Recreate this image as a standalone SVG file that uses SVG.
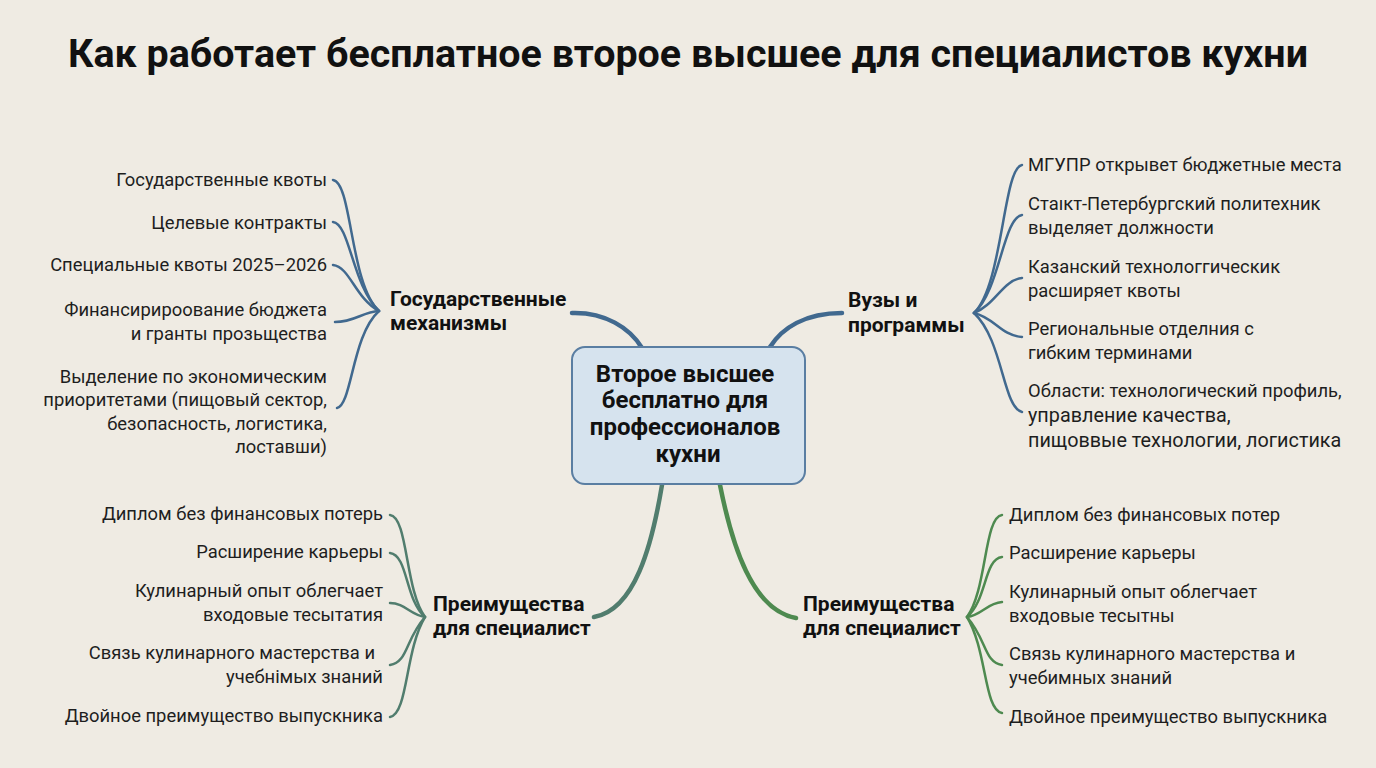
<svg xmlns="http://www.w3.org/2000/svg" width="1376" height="768" viewBox="0 0 1376 768">
<style>
.bg{fill:#EFEBE3}
.title{font-family:Roboto,"Liberation Sans",sans-serif;font-weight:700;font-size:39px;fill:#111}
.leaf{font-family:Roboto,"Liberation Sans",sans-serif;font-size:18.4px;fill:#1e1e1e}
.big{font-size:19.8px}
.branch{font-family:Roboto,"Liberation Sans",sans-serif;font-weight:700;font-size:21px;fill:#111}
.center{font-family:Roboto,"Liberation Sans",sans-serif;font-weight:700;font-size:24px;fill:#111}
.end{text-anchor:end}
.c{fill:none;stroke-linecap:round}
.trunk{stroke-width:4.5}
.twig{stroke-width:2.5}
.blue{stroke:#41698F}
.teal{stroke:#517D6E}
.green{stroke:#4E8A50}
.box{fill:#D6E3EE;stroke:#5A7EA2;stroke-width:2}
</style>
<rect class="bg" x="0" y="0" width="1376" height="768"/>
<text class="title" x="688" y="67" text-anchor="middle" textLength="1240" lengthAdjust="spacingAndGlyphs">Как работает бесплатное второе высшее для специалистов кухни</text>

<g id="connectors">
  <path class="c trunk blue" d="M 572 313 C 605 312, 630 328, 642 348"/>
  <path class="c trunk blue" d="M 842 313 C 805 313, 782 328, 770 347"/>
  <path class="c trunk teal" d="M 662 485 C 652 545, 635 610, 594 617"/>
  <path class="c trunk green" d="M 720 485 C 732 545, 752 610, 796 618"/>

  <path class="c twig blue" d="M 333 180 C 352 182, 350 285, 379 311"/>
  <path class="c twig blue" d="M 333 222 C 350 224, 352 285, 379 311"/>
  <path class="c twig blue" d="M 333 265 C 350 267, 355 298, 379 311"/>
  <path class="c twig blue" d="M 335 322 C 355 322, 362 312, 379 311"/>
  <path class="c twig blue" d="M 337 408 C 352 405, 352 335, 379 311"/>

  <path class="c twig blue" d="M 1022 165 C 1003 168, 1003 285, 974 313"/>
  <path class="c twig blue" d="M 1022 215 C 1003 218, 1000 290, 974 313"/>
  <path class="c twig blue" d="M 1022 278 C 1003 280, 995 305, 974 313"/>
  <path class="c twig blue" d="M 1022 337 C 1000 335, 995 318, 974 313"/>
  <path class="c twig blue" d="M 1022 412 C 1003 408, 1003 340, 974 313"/>

  <path class="c twig teal" d="M 390 515 C 408 517, 405 590, 425 617"/>
  <path class="c twig teal" d="M 390 553 C 408 555, 405 600, 425 617"/>
  <path class="c twig teal" d="M 390 603 C 405 603, 410 615, 425 617"/>
  <path class="c twig teal" d="M 390 665 C 408 662, 405 640, 425 617"/>
  <path class="c twig teal" d="M 390 717 C 408 714, 405 650, 425 617"/>

  <path class="c twig green" d="M 1002 515 C 984 517, 987 590, 967 617"/>
  <path class="c twig green" d="M 1002 557 C 984 559, 987 600, 967 617"/>
  <path class="c twig green" d="M 1002 602 C 987 603, 982 615, 967 617"/>
  <path class="c twig green" d="M 1002 665 C 984 662, 987 640, 967 617"/>
  <path class="c twig green" d="M 1002 713 C 984 710, 987 650, 967 617"/>
</g>

<g id="center">
  <rect class="box" x="572" y="347" width="233" height="137" rx="13"/>
  <text class="center" text-anchor="middle">
    <tspan x="688" y="382">Второе высшее</tspan>
    <tspan x="688" y="408">бесплатно для</tspan>
    <tspan x="688" y="435">профессионалов</tspan>
    <tspan x="688" y="462">кухни</tspan>
  </text>
</g>

<g id="branch-gov">
  <text class="branch"><tspan x="390" y="306">Государственные</tspan><tspan x="390" y="330">механизмы</tspan></text>
</g>
<g id="branch-vuz">
  <text class="branch"><tspan x="848" y="307">Вузы и</tspan><tspan x="848" y="332">программы</tspan></text>
</g>
<g id="branch-adv-left">
  <text class="branch"><tspan x="433" y="611">Преимущества</tspan><tspan x="433" y="635">для специалист</tspan></text>
</g>
<g id="branch-adv-right">
  <text class="branch"><tspan x="803" y="611">Преимущества</tspan><tspan x="803" y="635">для специалист</tspan></text>
</g>

<g id="leaves-gov">
  <text class="leaf end" x="327" y="186">Государственные квоты</text>
  <text class="leaf end" x="327" y="229">Целевые контракты</text>
  <text class="leaf end" x="327" y="271">Специальные квоты 2025–2026</text>
  <text class="leaf end"><tspan x="327" y="316">Финансирироование бюджета</tspan><tspan x="327" y="340">и гранты прозьщества</tspan></text>
  <text class="leaf end"><tspan x="327" y="383">Выделение по экономическим</tspan><tspan x="327" y="406">приоритетами (пищовый сектор,</tspan><tspan x="327" y="430">безопасность, логистика,</tspan><tspan x="327" y="453">лоставши)</tspan></text>
</g>

<g id="leaves-vuz">
  <text class="leaf" x="1028" y="171">МГУПР открывет бюджетные места</text>
  <text class="leaf"><tspan x="1028" y="210">Стаıкт-Петербургский политехник</tspan><tspan x="1028" y="234">выделяет должности</tspan></text>
  <text class="leaf"><tspan x="1028" y="273">Казанский технологгическик</tspan><tspan x="1028" y="297">расширяет квоты</tspan></text>
  <text class="leaf"><tspan x="1028" y="335">Региональные отделния с</tspan><tspan x="1028" y="359">гибким терминами</tspan></text>
  <text class="leaf"><tspan x="1028" y="397">Области: технологический профиль,</tspan><tspan class="big" x="1028" y="422">управление качества,</tspan><tspan class="big" x="1028" y="447">пищоввые технологии, логистика</tspan></text>
</g>

<g id="leaves-adv-left">
  <text class="leaf end" x="383" y="520">Диплом без финансовых потерь</text>
  <text class="leaf end" x="383" y="558">Расширение карьеры</text>
  <text class="leaf end"><tspan x="383" y="597">Кулинарный опыт облегчает</tspan><tspan x="383" y="621">входовые тесытатия</tspan></text>
  <text class="leaf end"><tspan x="375" y="659">Связь кулинарного мастерства и</tspan><tspan x="383" y="683">учебнімых знаний</tspan></text>
  <text class="leaf end" x="383" y="722">Двойное преимущество выпускника</text>
</g>

<g id="leaves-adv-right">
  <text class="leaf" x="1009" y="521">Диплом без финансовых потер</text>
  <text class="leaf" x="1009" y="559">Расширение карьеры</text>
  <text class="leaf"><tspan x="1009" y="598">Кулинарный опыт облегчает</tspan><tspan x="1009" y="622">входовые тесытны</tspan></text>
  <text class="leaf"><tspan x="1009" y="660">Связь кулинарного мастерства и</tspan><tspan x="1009" y="684">учебимных знаний</tspan></text>
  <text class="leaf" x="1009" y="723">Двойное преимущество выпускника</text>
</g>
</svg>
